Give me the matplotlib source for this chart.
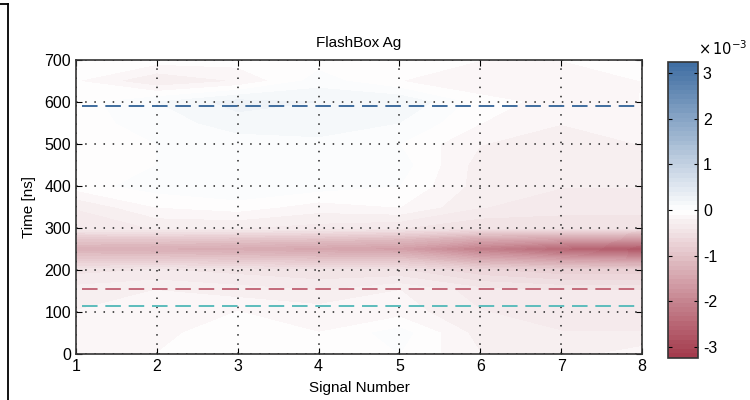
import matplotlib
matplotlib.use("Agg")
import matplotlib.pyplot as plt
import numpy as np
from matplotlib.colors import LinearSegmentedColormap
from matplotlib.lines import Line2D

plt.rcParams["font.family"] = ["Liberation Sans", "DejaVu Sans"]

signals = [1, 2, 3, 4, 5, 6, 7, 8]
times = [0, 50, 100, 150, 200, 225, 250, 275, 300, 350, 400, 450, 500, 550, 600, 650, 700]

# difference signal, units of 1e-3, one row per time sample
diff = [
    [-0.15, -0.10, -0.05, -0.10, 0.00, -0.20, -0.25, -0.15],
    [-0.20, -0.15, 0.00, -0.10, 0.05, -0.25, -0.30, -0.30],
    [-0.20, -0.20, -0.10, -0.15, -0.15, -0.30, -0.35, -0.35],
    [-0.25, -0.20, -0.25, -0.30, -0.20, -0.35, -0.40, -0.40],
    [-0.45, -0.40, -0.45, -0.50, -0.50, -0.70, -0.80, -0.80],
    [-0.90, -0.90, -0.95, -1.00, -1.00, -1.40, -1.60, -1.70],
    [-1.30, -1.35, -1.40, -1.50, -1.60, -2.10, -2.50, -2.80],
    [-0.90, -0.90, -0.95, -1.00, -1.10, -1.40, -1.50, -1.60],
    [-0.35, -0.30, -0.30, -0.35, -0.40, -0.50, -0.50, -0.50],
    [-0.30, -0.10, -0.05, -0.15, -0.10, -0.30, -0.35, -0.35],
    [-0.05, 0.05, 0.10, 0.05, 0.00, -0.25, -0.30, -0.30],
    [-0.10, 0.00, 0.05, 0.10, 0.05, -0.25, -0.30, -0.30],
    [-0.10, 0.00, 0.05, 0.05, 0.00, -0.20, -0.25, -0.20],
    [-0.05, 0.05, 0.15, 0.20, 0.10, -0.10, -0.20, -0.15],
    [-0.05, 0.10, 0.25, 0.20, 0.20, -0.05, -0.15, -0.10],
    [-0.10, -0.30, -0.20, 0.05, -0.10, -0.20, -0.20, -0.10],
    [-0.05, -0.05, -0.05, -0.05, -0.05, -0.10, -0.10, -0.05],
]

# marker times [ns]
t_blue = 590
t_red = 155
t_cyan = 114

cmap = LinearSegmentedColormap.from_list(
    "rwb", ["#a3394b", "#ffffff", "#3e6da2"])
vlim = 3.25e-3

fig = plt.figure(figsize=(7.5, 4), dpi=100)
ax = fig.add_axes([0.1013, 0.115, 0.7547, 0.735])
cax = fig.add_axes([0.8907, 0.105, 0.04, 0.74])

X, Y = np.meshgrid(signals, times)
Z = np.array(diff) * 1e-3
levels = np.linspace(-vlim, vlim, 65)
cf = ax.contourf(X, Y, Z, levels=levels, cmap=cmap, vmin=-vlim, vmax=vlim)

ax.axhline(t_blue, xmin=0.01, color="#3f6d9e", lw=1.4, dashes=(8, 4))
ax.axhline(t_red, xmin=0.01, color="#c36a7a", lw=1.4, dashes=(8, 4))
ax.axhline(t_cyan, xmin=0.01, color="#5cbcbc", lw=1.4, dashes=(8, 4))

ax.set_xlim(1, 8)
ax.set_ylim(0, 700)
ax.set_xticks(signals)
ax.set_yticks(range(0, 701, 100))
ax.grid(True, color="#222222", linestyle=(0, (1, 5)), linewidth=1.1)
ax.tick_params(direction="in", top=True, right=True, length=4, labelsize=11.5)
for s in ax.spines.values():
    s.set_linewidth(1.2)
    s.set_color("#333333")
ax.set_title("FlashBox Ag", fontsize=11, pad=9)
ax.set_xlabel("Signal Number", fontsize=11, labelpad=5)
ax.set_ylabel("Time [ns]", fontsize=11, labelpad=6)

cb = fig.colorbar(cf, cax=cax, ticks=np.arange(-3, 4) * 1e-3)
cb.ax.set_yticklabels([str(v) for v in range(-3, 4)])
cb.ax.tick_params(direction="in", left=True, right=True, length=3, labelsize=11.5)
cb.outline.set_linewidth(1.2)
cb.outline.set_edgecolor("#333333")
cax.text(1.0, 1.015, r"$\times\,10^{-3}$", transform=cax.transAxes,
         fontsize=10.5, ha="left", va="bottom")

# frame edge on the left
fig.add_artist(Line2D([0.0107, 0.0107], [0.0, 0.99], color="black", lw=1.3))
fig.add_artist(Line2D([0.0, 0.0107], [0.99, 0.99], color="black", lw=1.3))

fig.savefig("out.png", dpi=100)
